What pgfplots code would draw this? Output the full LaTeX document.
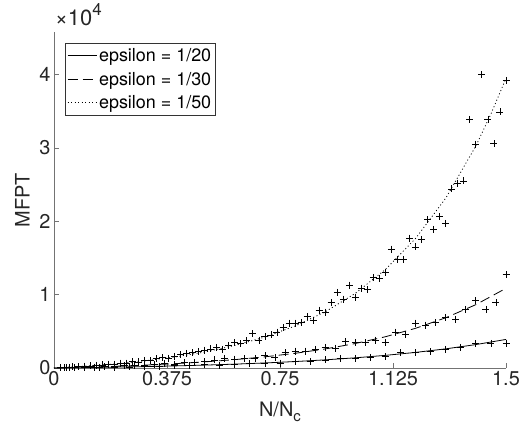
\documentclass[border=0pt]{standalone}
\usepackage{fontspec}
\setmainfont{TeX Gyre Heros}
\usepackage{pgfplots}
\pgfplotsset{compat=1.18}

% MFPT against N/N_c, three noise levels; marks = simulation, lines = fits
\pgfplotstableread{
x      y
0.05   30
0.10   60
0.15   80
0.20   130
0.25   140
0.30   200
0.35   230
0.40   300
0.45   330
0.50   450
0.55   380
0.60   450
0.65   560
0.70   650
0.75   650
0.80   850
0.85   850
0.90   1100
0.95   1300
1.00   1300
1.05   1450
1.10   1550
1.15   2100
1.20   2100
1.25   2200
1.30   2550
1.35   2800
1.40   3300
1.45   3350
1.50   3350
}\ptsA

\pgfplotstableread{
x        y
0.0333   40
0.0667   60
0.1000   120
0.1333   130
0.1667   200
0.2000   220
0.2333   300
0.2667   320
0.3000   420
0.3333   430
0.3667   560
0.4000   520
0.4333   700
0.4667   720
0.5000   850
0.5333   1100
0.5667   1300
0.6000   1200
0.6333   1300
0.6667   1300
0.7000   1650
0.7333   1450
0.7667   2100
0.8000   2300
0.8333   2300
0.8667   2550
0.9000   2800
0.9333   2700
0.9667   3600
1.0000   3500
1.0333   3450
1.0667   3800
1.1000   3450
1.1333   4900
1.1667   4600
1.2000   6100
1.2333   5850
1.2667   6200
1.3000   6850
1.3333   6600
1.3667   8000
1.4000   9200
1.4333   8000
1.4667   8900
1.5000   12700
}\ptsB

\pgfplotstableread{
x      y
0.02   60
0.04   80
0.06   150
0.08   170
0.10   260
0.12   280
0.14   390
0.16   410
0.18   520
0.20   540
0.22   680
0.24   650
0.26   850
0.28   830
0.30   1050
0.32   1000
0.34   1250
0.36   1400
0.38   1300
0.40   1600
0.42   1800
0.44   2000
0.46   2100
0.48   2200
0.50   2450
0.52   2600
0.54   2800
0.56   2500
0.58   3100
0.60   3450
0.62   3300
0.64   3700
0.66   4700
0.68   3800
0.70   4300
0.72   4500
0.74   4900
0.76   5500
0.78   6100
0.80   6100
0.82   6200
0.84   7000
0.86   6500
0.88   7900
0.90   7600
0.92   8900
0.94   10300
0.96   9400
0.98   11300
1.00   9600
1.02   10900
1.04   10700
1.06   12350
1.08   12200
1.10   13000
1.12   16200
1.14   14800
1.16   14800
1.18   17700
1.20   16500
1.22   17500
1.24   20200
1.26   18900
1.28   20600
1.30   19700
1.32   24400
1.34   25200
1.36   25500
1.38   33900
1.40   30500
1.42   40000
1.44   33900
1.46   30600
1.48   34900
1.50   39200
}\ptsC

\begin{document}
\begin{tikzpicture}
\begin{axis}[
  scale only axis, width=452bp, height=336bp,
  xmin=0, xmax=1.5, ymin=0, ymax=45800,
  axis x line*=bottom, axis y line*=left,
  axis line style={-, black!55, line width=0.6bp},
  every outer x axis line/.append style={-},
  every outer y axis line/.append style={-},
  xtick={0,0.375,0.75,1.125,1.5},
  xticklabels={0,0.375,0.75,1.125,1.5},
  ytick={0,10000,20000,30000,40000},
  yticklabels={0,1,2,3,4},
  scaled y ticks=false,
  tick align=inside, major tick length=5bp,
  tick style={black!55, line width=0.6bp},
  ticklabel style={font=\fontsize{20}{23}\selectfont, text=black!85},
  xlabel={N/N\raisebox{-5bp}{\fontsize{15}{16}\selectfont c}}, ylabel={MFPT},
  label style={font=\fontsize{20}{23}\selectfont, text=black!85},
  xlabel style={yshift=-9bp},
  ylabel style={yshift=3bp},
  legend image code/.code={\draw[#1] (0bp,0bp) -- (29bp,0bp);},
  legend style={at={(0.0243,0.967)}, anchor=north west, draw=black!80,
    line width=0.6bp, font=\fontsize{18}{20}\selectfont,
    inner xsep=2bp, inner ysep=3bp, row sep=5bp},
  legend cell align=left,
  clip=false,
]
\coordinate (o) at (rel axis cs:0,0);
\coordinate (tl) at (rel axis cs:0,1);

\addplot[black, line width=0.8bp] coordinates {
  (0,0) (0.1,53) (0.2,116) (0.3,192) (0.4,284) (0.5,394) (0.6,527)
  (0.7,687) (0.8,879) (0.9,1110) (1.0,1388) (1.1,1723) (1.2,2126)
  (1.3,2610) (1.4,3193) (1.5,3895)};
\addlegendentry{epsilon = 1/20}
\addplot[black, line width=0.8bp, dash pattern=on 10bp off 5bp] coordinates {
  (0,0) (0.1,102) (0.2,230) (0.3,389) (0.4,587) (0.5,834) (0.6,1141)
  (0.7,1524) (0.8,2002) (0.9,2597) (1.0,3338) (1.1,4262) (1.2,5413)
  (1.3,6848) (1.4,8635) (1.5,10863)};
\addlegendentry{epsilon = 1/30}
\addplot[black, line width=0.8bp, dash pattern=on 1bp off 2.5bp] coordinates {
  (0,0) (0.1,242) (0.2,557) (0.3,964) (0.4,1493) (0.5,2178) (0.6,3067)
  (0.7,4220) (0.8,5716) (0.9,7655) (1.0,10171) (1.1,13433) (1.2,17663)
  (1.3,23151) (1.4,30267) (1.45,34630) (1.5,39496)};
\addlegendentry{epsilon = 1/50}

\addplot[only marks, mark=+, mark size=3.5bp, black, line width=0.8bp, forget plot] table[x=x,y=y] {\ptsA};
\addplot[only marks, mark=+, mark size=3.5bp, black, line width=0.8bp, forget plot] table[x=x,y=y] {\ptsB};
\addplot[only marks, mark=+, mark size=3.5bp, black, line width=0.8bp, forget plot] table[x=x,y=y] {\ptsC};
\end{axis}
\node[anchor=base west, inner sep=0pt, font=\fontsize{22}{25}\selectfont, text=black!85]
  at ([xshift=1bp,yshift=6bp]tl) {×10\raisebox{10bp}{\fontsize{17}{18}\selectfont 4}};
\pgfresetboundingbox
\path ([xshift=-54bp,yshift=-68bp]o) rectangle ++(520bp,436bp);
\end{tikzpicture}
\end{document}
